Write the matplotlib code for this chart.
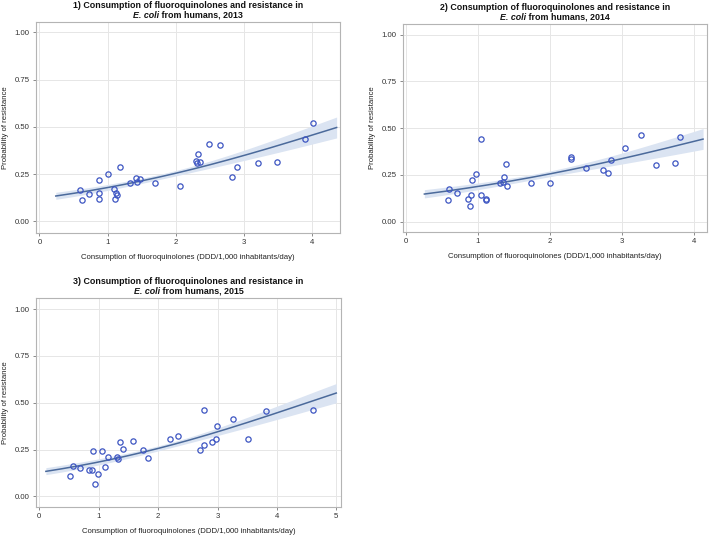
import numpy as np
import matplotlib.pyplot as plt

plt.rcParams['font.family'] = ['Liberation Sans', 'DejaVu Sans']

# consumption (DDD/1,000 inhabitants/day) vs share resistant, per year
x2013 = [0.59, 0.62, 0.73, 0.88, 0.88, 0.87, 1.00, 1.09, 1.13, 1.14, 1.11, 1.18, 1.33,
         1.42, 1.43, 1.47, 1.69, 2.06, 2.30, 2.31, 2.33, 2.36, 2.49, 2.65, 2.83, 2.90,
         3.20, 3.48, 3.89, 4.01]
y2013 = [0.164, 0.114, 0.143, 0.220, 0.148, 0.120, 0.248, 0.173, 0.148, 0.137, 0.116,
         0.289, 0.204, 0.229, 0.210, 0.224, 0.202, 0.188, 0.317, 0.310, 0.356, 0.315,
         0.410, 0.405, 0.236, 0.285, 0.310, 0.315, 0.433, 0.519]

x2014 = [0.59, 0.60, 0.71, 0.86, 0.89, 0.91, 0.92, 0.98, 1.05, 1.05, 1.12, 1.12, 1.31,
         1.35, 1.36, 1.39, 1.41, 1.74, 2.01, 2.30, 2.30, 2.51, 2.74, 2.81, 2.85, 3.05,
         3.27, 3.47, 3.74, 3.81]
y2014 = [0.117, 0.173, 0.155, 0.121, 0.085, 0.144, 0.224, 0.254, 0.440, 0.141, 0.123,
         0.116, 0.206, 0.212, 0.238, 0.306, 0.192, 0.206, 0.208, 0.333, 0.347, 0.288,
         0.276, 0.258, 0.329, 0.395, 0.464, 0.304, 0.315, 0.454]

x2015 = [0.52, 0.57, 0.69, 0.84, 0.88, 0.91, 0.93, 0.99, 1.06, 1.10, 1.15, 1.31, 1.32,
         1.35, 1.41, 1.57, 1.74, 1.83, 2.20, 2.33, 2.70, 2.77, 2.78, 2.91, 2.97, 2.99,
         3.26, 3.51, 3.82, 4.60]
y2015 = [0.110, 0.164, 0.149, 0.139, 0.142, 0.240, 0.068, 0.117, 0.240, 0.157, 0.212,
         0.208, 0.199, 0.288, 0.254, 0.295, 0.246, 0.205, 0.306, 0.320, 0.247, 0.461,
         0.272, 0.290, 0.304, 0.377, 0.415, 0.308, 0.454, 0.463]

years = [2013, 2014, 2015]
xs = [x2013, x2014, x2015]
ys = [y2013, y2014, y2015]

# logistic fit: logit(p) = a + b*x, band half-width on logit scale
fit_a = [-1.976, -1.854, -1.918]
fit_b = [0.450, 0.392, 0.425]
fit_x0 = [0.24, 0.26, 0.11]
fit_x1 = [4.36, 4.13, 5.00]
band_c0 = [0.075, 0.08, 0.07]
band_c1 = [0.085, 0.095, 0.07]
band_xm = [1.9, 1.9, 2.2]

xlims = [(-0.05, 4.41), (-0.037, 4.185), (-0.056, 5.08)]
ylims = [(-0.062, 1.055), (-0.055, 1.057), (-0.057, 1.059)]
xticks = [range(0, 5), range(0, 5), range(0, 6)]

positions = [[0.0508, 0.5645, 0.4288, 0.3944],
             [0.5684, 0.5664, 0.4288, 0.3888],
             [0.0508, 0.0523, 0.4302, 0.3907]]

W, H = 709, 535
fig = plt.figure(figsize=(W / 100, H / 100), dpi=100)
renderer = fig.canvas.get_renderer()

def expit(z):
    return 1 / (1 + np.exp(-z))

for i in range(3):
    ax = fig.add_axes(positions[i])
    xx = np.linspace(fit_x0[i], fit_x1[i], 200)
    eta = fit_a[i] + fit_b[i] * xx
    hw = np.sqrt(band_c0[i] ** 2 + (band_c1[i] * (xx - band_xm[i])) ** 2)
    ax.fill_between(xx, expit(eta - hw), expit(eta + hw), color='#dbe4f2', lw=0, zorder=2)
    ax.plot(xx, expit(eta), color='#4b6a9b', lw=1.1, zorder=3)
    ax.plot(xs[i], ys[i], 'o', mfc='none', mec='#3d55c2', mew=0.9, ms=3.8, zorder=4)

    ax.set_xlim(*xlims[i])
    ax.set_ylim(*ylims[i])
    ax.set_xticks(list(xticks[i]))
    ax.set_yticks([0, 0.25, 0.5, 0.75, 1.0])
    ax.set_yticklabels(['0.00', '0.25', '0.50', '0.75', '1.00'])
    ax.grid(color='#e6e6e6', lw=0.7)
    ax.set_axisbelow(True)
    for s in ax.spines.values():
        s.set_color('#b4b4b4')
        s.set_linewidth(0.8)
    ax.tick_params(labelsize=5.6, colors='#777777', length=2.5, width=0.6,
                   labelcolor='#333333', pad=2)
    ax.set_xlabel('Consumption of fluoroquinolones (DDD/1,000 inhabitants/day)',
                  fontsize=5.6, color='#222222')
    ax.set_ylabel('Probability of resistance', fontsize=5.6, color='#222222')
    axw = positions[i][2] * W
    axh = positions[i][3] * H
    ax.yaxis.set_label_coords(-27 / axw, 0.5)
    ax.xaxis.set_label_coords(0.5, -21 / axh)

    # two-line bold title with italic species name
    l, b, w, h = positions[i]
    cx = l + w / 2
    top = b + h
    fig.text(cx, top + 16.5 / H, '%d) Consumption of fluoroquinolones and resistance in' % (i + 1),
             ha='center', va='center', fontsize=6.4, fontweight='bold', color='#111111')
    t1 = fig.text(0, 0, 'E. coli', fontsize=6.4, fontweight='bold', style='italic',
                  color='#111111', va='center')
    t2 = fig.text(0, 0, ' from humans, %d' % years[i], fontsize=6.4, fontweight='bold',
                  color='#111111', va='center')
    w1 = t1.get_window_extent(renderer).width / fig.bbox.width
    w2 = t2.get_window_extent(renderer).width / fig.bbox.width
    x0 = cx - (w1 + w2) / 2
    ty = top + 6.5 / H
    t1.set_position((x0, ty))
    t2.set_position((x0 + w1, ty))

fig.savefig('out.png', dpi=100)
